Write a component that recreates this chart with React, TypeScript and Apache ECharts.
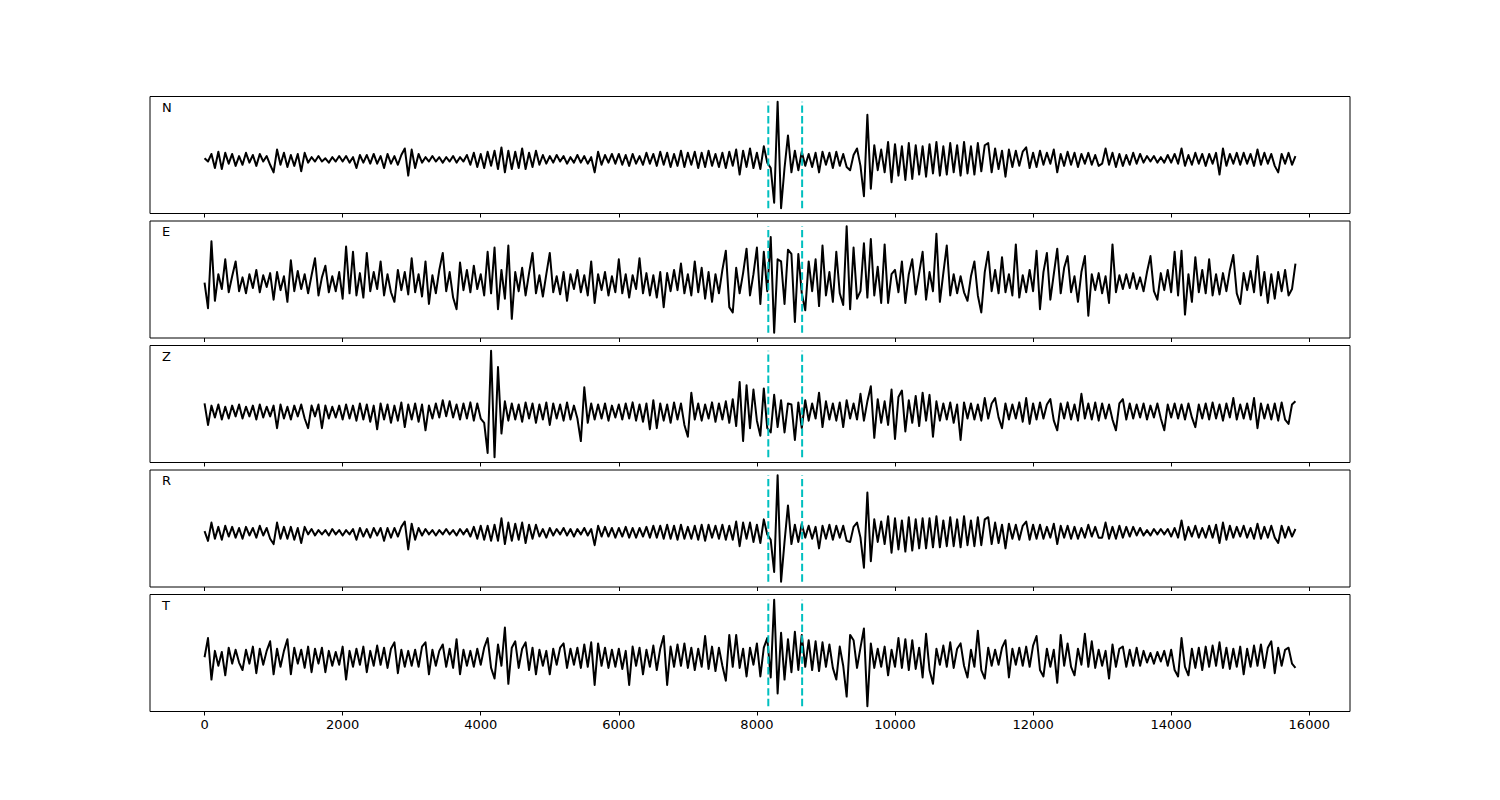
import React, { useEffect, useRef } from "react";
import * as echarts from "echarts";

// ---- data ----
const channels = ["N", "E", "Z", "R", "T"];
const sampleStep = 50; // x spacing of samples
const pickTimes = [8165, 8655];
const xTicks = [0, 2000, 4000, 6000, 8000, 10000, 12000, 14000, 16000];
const xMin = -790;
const xMax = 16590;

const traceN = [
  1, -2, 5, -8, 7, -9, 6, -4, 5, -6,
  3, -5, 6, -3, 4, -6, 5, -2, 3, -5,
  -12, 9, -5, 6, -7, 4, -6, 5, -11, 6,
  -3, 2, -2, 3, -2, 1, -3, 2, -2, 3,
  -2, 3, -3, 2, -8, 4, -3, 4, -4, 5,
  -4, 3, -8, 5, -4, 3, -5, 4, 10, -15,
  9, -8, 5, -3, 2, -2, 3, -2, 2, -3,
  2, -2, 3, -3, 2, -2, 4, -5, 6, -7,
  5, -8, 7, -6, 8, -9, 11, -12, 8, -9,
  7, -8, 10, -9, 6, -7, 8, -5, 4, -4,
  3, -3, 4, -2, 3, -4, 2, -3, 4, -3,
  3, -4, 2, -12, 7, -5, 4, -3, 5, -4,
  5, -5, 4, -6, 5, -4, 3, -5, 6, -4,
  5, -6, 7, -5, 6, -7, 5, -6, 8, -7,
  6, -5, 7, -8, 6, -7, 8, -6, 5, -7,
  6, -8, 7, -6, 9, -14, 8, -7, 10, -8,
  6, -9, 12, -3, -8, -40, 53, -45, -8, 22,
  -12, 8, -10, 7, -6, 5, -7, 6, -12, 7,
  -5, 6, -8, 7, -6, 5, -7, -10, 4, 10,
  -6, -34, 41, -27, 13, -10, 9, -12, 16, -21,
  14, -15, 12, -19, 15, -18, 13, -14, 12, -16,
  14, -13, 16, -15, 12, -14, 15, -12, 13, -15,
  16, -13, 12, -14, 15, -11, 13, 15, -12, 10,
  -9, 8, -16, 9, -7, 8, -6, 7, 11, -8,
  6, -7, 8, -5, 6, -4, 9, -12, 5, -6,
  7, -5, 6, -7, 5, -4, 6, -5, 4, -6,
  -4, 10, -5, 6, -7, 5, -6, 4, -5, 6,
  -4, 5, -3, 3, -2, 3, -3, 2, -3, 4,
  -3, 5, -4, 10, -6, 4, -5, 6, -4, 5,
  -6, 5, -4, 6, -14, 10, -6, 5, -4, 6,
  -5, 6, -4, 5, -6, 9, -5, 6, -4, 5,
  -6, -12, 5, -4, 6, -5, 3,
];

const traceE = [
  0, -24, 39, -17, 8, -6, 22, -9, 6, 20,
  -8, 5, -10, 8, -5, 12, -9, 7, -4, 9,
  -16, 10, -7, 6, -18, 21, -8, 11, -6, 8,
  -10, 7, 23, -12, 5, 16, -9, 6, -8, 10,
  -15, 34, -10, 29, -12, 9, -14, 28, -8, 10,
  -6, 20, -12, 8, -9, -18, 12, -7, 10, -11,
  23, -9, 8, -13, 20, -20, 7, -10, 12, 28,
  -8, 10, -14, -25, 19, -7, 12, -9, 16, -6,
  8, -12, 29, -10, 33, -25, 12, -15, 35, -34,
  10, -8, 14, -12, 9, 28, -10, 7, -13, 8,
  28, -9, 6, -11, 10, -17, 8, -6, 12, -9,
  7, -12, 20, -19, 8, -7, 10, -12, 6, -9,
  22, -10, 8, -14, 7, -6, 23, -10, 9, -12,
  7, -14, 10, -23, 9, -8, 12, -7, 18, -10,
  8, -12, 20, -9, 14, -15, 10, -18, 8, -10,
  12, 30, -23, -28, 14, -10, 9, 32, -12, 8,
  33, -20, 29, -8, 43, -47, 22, 20, -20, 31,
  27, -37, 27, -10, -26, 20, -8, 22, -22, 35,
  -12, 10, -18, 29, -10, -21, 53, -25, 33, -15,
  -8, 37, -14, 41, -12, 15, -19, 36, -19, 8,
  12, -9, 20, -19, 8, 22, -11, 9, 29, -16,
  10, -8, 46, -18, 9, 35, -12, 8, -10, 6,
  -9, -17, 6, 20, -12, -28, 10, 29, -8, 12,
  -10, 24, -9, 8, -12, 36, -14, 7, -9, 12,
  -8, 30, -25, 10, 28, -16, 8, 32, -10, 14,
  25, -9, 6, -18, 10, 25, -31, 8, -7, 9,
  -10, 6, -19, 36, -9, 7, -6, 8, -5, 9,
  -6, 5, -8, 10, 25, -8, -16, 9, -7, 12,
  -9, 29, -12, 30, -30, 8, -18, 24, -9, 12,
  -10, 22, -12, 8, -11, 9, -8, 12, 26, -10,
  -20, 9, -7, 11, -9, 25, -12, 10, -19, 8,
  -15, 10, -8, 12, -12, -6, 18,
];

const traceZ = [
  6, -14, 4, -7, 5, -9, 3, -8, 4, -6,
  5, -8, 3, -6, 4, -9, 5, -7, 3, -6,
  4, -17, 5, -8, 3, -9, 4, -6, 5, -8,
  -17, 4, -6, 5, -17, 4, -8, 3, -7, 4,
  -9, 5, -8, 4, -10, 6, -9, 5, -11, 4,
  -18, 6, -9, 5, -12, 4, -10, 7, -16, 5,
  -9, 6, -11, 5, -19, 4, -8, 6, -7, 9,
  -6, 8, -7, 5, -9, 6, -8, 7, -10, 6,
  -8, -12, -40, 55, -44, 40, -22, 8, -10, 6,
  -9, 5, -11, 7, -8, 6, -12, 5, -9, 7,
  -14, 6, -8, 5, -10, 7, -9, 4, -8, -29,
  21, -12, 6, -9, 5, -8, 6, -10, 4, -7,
  5, -9, 6, -8, 7, -10, 5, -11, 6, -18,
  9, -17, 6, -10, 5, -12, 7, -9, 6, -14,
  -25, 16, -9, 6, -10, 5, -8, 7, -11, 6,
  -9, 8, -12, 10, -15, 26, -29, 23, -17, 19,
  -10, -24, 20, -17, -21, 14, -16, 9, -21, 6,
  5, -28, 7, -17, 9, -10, 6, -8, 16, -16,
  8, -9, 6, -10, 7, -16, 9, -8, 6, -9,
  15, -10, 8, 22, -26, 10, -12, 8, -14, 19,
  -27, 12, 18, -20, 9, -12, 13, -15, 16, -10,
  14, -25, 8, -10, 6, -9, 7, -12, 5, -28,
  7, -8, 6, -9, 5, -10, 11, -8, 6, 11,
  -7, -17, 6, -9, 5, -8, 7, -11, 11, -13,
  6, -9, 7, -8, 5, 10, -10, -19, 6, -8,
  7, -9, 5, -10, 15, -8, 6, -9, 7, -10,
  6, -8, 5, -9, -19, 6, 10, -9, 6, -8,
  5, -7, 6, -9, 4, -7, 6, -8, -19, 5,
  -7, 6, -8, 5, -9, 6, -7, -16, 5, -8,
  6, -9, 7, -8, 5, -10, 6, -7, 11, -9,
  5, -8, 6, -9, 11, -17, 6, -8, 5, -9,
  6, -10, 7, -9, -13, 5, 8,
];

const traceR = [
  1, -8, 9, -6, 5, -7, 6, -4, 5, -5,
  4, -6, 5, -3, 4, -5, 6, -3, 4, -6,
  -11, 9, -6, 5, -6, 5, -7, 4, -10, 5,
  -2, 3, -3, 2, -2, 2, -3, 3, -2, 2,
  -3, 2, -2, 3, -7, 4, -4, 3, -5, 4,
  -3, 4, -8, 4, -5, 4, -4, 5, 10, -16,
  8, -7, 4, -3, 3, -2, 2, -3, 2, -2,
  3, -2, 2, -3, 3, -2, 3, -4, 5, -6,
  6, -7, 6, -8, 7, -8, 13, -11, 9, -8,
  8, -7, 9, -10, 7, -6, 7, -4, 3, -5,
  4, -3, 3, -2, 4, -3, 3, -4, 3, -2,
  4, -3, 3, -12, 6, -4, 5, -4, 4, -5,
  4, -4, 5, -5, 4, -5, 4, -4, 5, -5,
  6, -5, 6, -6, 7, -6, 6, -7, 7, -6,
  5, -6, 6, -7, 7, -8, 7, -5, 6, -6,
  7, -7, 6, -7, 10, -13, 9, -6, 9, -9,
  7, -10, 12, -2, -7, -37, 53, -46, -9, 25,
  -11, 7, -9, 8, -5, 6, -6, 5, -15, 6,
  -6, 7, -7, 6, -5, 6, -8, -9, 5, 9,
  -5, -33, 37, -27, 12, -9, 10, -11, 15, -19,
  13, -16, 11, -18, 14, -17, 12, -15, 13, -15,
  13, -14, 15, -14, 11, -13, 14, -13, 12, -14,
  15, -12, 11, -13, 14, -12, 12, 14, -11, 9,
  -10, 7, -15, 8, -6, 7, -7, 6, 10, -7,
  7, -6, 7, -6, 5, -5, 8, -11, 6, -5,
  6, -6, 5, -6, 4, -5, 7, -4, 5, -5,
  -5, 9, -6, 5, -6, 6, -5, 5, -4, 5,
  -3, 4, -3, 2, -3, 3, -2, 3, -2, 3,
  -4, 4, -5, 11, -7, 5, -4, 6, -5, 4,
  -5, 6, -5, 7, -10, 9, -7, 6, -5, 5,
  -4, 6, -5, 4, -6, 8, -6, 5, -5, 6,
  -5, -10, 6, -5, 5, -4, 3,
];

const traceT = [
  0, 18, -21, 6, -8, 5, -17, 9, -6, 7,
  -5, -12, 7, -6, 10, -15, 8, -7, 6, 15,
  -16, 8, -9, 6, 17, -16, 9, -6, 7, -10,
  10, -14, 8, -6, 9, -14, 6, -8, 5, -7,
  10, -21, 6, -9, 8, -7, 10, -14, 6, -8,
  11, -7, 9, -10, 8, 14, -15, 7, -9, 6,
  -8, 7, -9, 10, 14, -16, 7, -8, 6, 12,
  -9, 8, -10, 17, -16, 7, -8, 6, -9, 8,
  -7, 9, 18, -10, -20, 12, -8, 28, -25, 9,
  15, -10, 8, 14, -12, 9, -16, 7, -8, 6,
  -16, 8, -7, 9, 13, -10, 8, -7, 9, -10,
  12, -9, 14, -26, 13, -8, 9, -10, 7, -9,
  8, -11, 6, -26, 10, -8, 9, -16, 7, -9,
  11, -12, 8, 20, -26, 10, -9, 12, -8, 13,
  -10, 9, -12, 8, -9, 20, -11, 10, -13, 9,
  -8, -22, 21, -9, 21, -10, 8, -18, 9, -7,
  13, -18, 9, 18, -19, 54, -34, 23, -21, 17,
  -14, 24, -12, 21, -9, 16, -12, 15, -13, 14,
  -9, 12, -10, -21, 10, -8, -37, 21, 16, -10,
  9, 27, -46, 13, -10, 8, -9, 10, -17, 7,
  -9, 18, -10, 17, -12, 16, -11, 9, -19, 22,
  -12, -25, 8, -7, 11, -9, 14, -10, 8, 13,
  -8, -19, 7, -9, 25, -12, -20, 9, -8, 7,
  -7, 9, 16, -19, 8, -7, 9, -8, 10, -9,
  11, 20, -12, -18, 8, -9, 7, -24, 21, -8,
  13, -9, -17, 8, -7, 22, -9, 15, -10, 7,
  -8, 6, -20, 12, -9, 8, 10, -9, 7, -8,
  9, -8, 6, -5, 4, -6, 5, -4, 6, -8,
  7, -12, -18, 18, -9, -17, 8, -10, 9, -12,
  10, -9, 11, -8, 14, -10, 9, -11, 8, -9,
  10, -16, 8, -9, 11, -8, 12, -10, 9, 15,
  -15, 9, -8, 7, 9, -6, -10,
];

const traces = [traceN, traceE, traceZ, traceR, traceT];

// ---- layout ----
const gridLeft = 150;
const gridWidth = 1200;
const gridTop0 = 96.5;
const gridStep = 124.5;
const gridHeight = 117;

function buildOption() {
  const grid: any[] = [];
  const xAxis: any[] = [];
  const yAxis: any[] = [];
  const series: any[] = [];
  const graphic: any[] = [];

  traces.forEach((tr, k) => {
    const lo = Math.min(...tr);
    const hi = Math.max(...tr);
    const pad = (hi - lo) * 0.05;
    const top = gridTop0 + k * gridStep;
    grid.push({
      left: gridLeft,
      width: gridWidth,
      top,
      height: gridHeight,
      show: true,
      borderColor: "#000",
      borderWidth: 1,
      backgroundColor: "transparent",
    });
    xAxis.push({
      type: "value",
      gridIndex: k,
      min: xMin,
      max: xMax,
      axisLine: { show: false, onZero: false },
      splitLine: { show: false },
      axisTick: {
        show: true,
        inside: false,
        length: 4,
        lineStyle: { color: "#000", width: 1 },
        customValues: xTicks,
      },
      axisLabel: {
        show: k === traces.length - 1,
        customValues: xTicks,
        formatter: (v: number) => String(v),
        color: "#000",
        fontSize: 13,
        fontFamily: "DejaVu Sans",
        margin: 6,
      },
    });
    yAxis.push({
      type: "value",
      gridIndex: k,
      min: lo - pad,
      max: hi + pad,
      show: false,
      splitLine: { show: false },
    });
    series.push({
      type: "line",
      xAxisIndex: k,
      yAxisIndex: k,
      data: tr.map((v, i) => [i * sampleStep, v]),
      showSymbol: false,
      symbol: "none",
      silent: true,
      z: 2,
      lineStyle: { color: "#000", width: 2, join: "round" },
    });
    pickTimes.forEach((t) => {
      series.push({
        type: "line",
        xAxisIndex: k,
        yAxisIndex: k,
        data: [
          [t, lo],
          [t, hi],
        ],
        showSymbol: false,
        symbol: "none",
        silent: true,
        z: 3,
        lineStyle: { color: "#00bfbf", width: 2, type: [7.4, 3.2] },
      });
    });
    graphic.push({
      type: "text",
      x: 162,
      y: top + 4,
      style: {
        text: channels[k],
        fill: "#000",
        font: '13px "DejaVu Sans"',
        textVerticalAlign: "top",
      },
    });
  });

  return {
    animation: false,
    backgroundColor: "#fff",
    grid,
    xAxis,
    yAxis,
    series,
    graphic,
  };
}

export default function App() {
  const ref = useRef<HTMLDivElement>(null);
  useEffect(() => {
    if (!ref.current) return;
    const chart = echarts.init(ref.current, undefined, { renderer: "svg" });
    chart.setOption(buildOption());
    return () => chart.dispose();
  }, []);
  return (
    <div
      ref={ref}
      style={{ position: "absolute", left: 0, top: 0, width: 1500, height: 800, background: "#fff" }}
    />
  );
}
